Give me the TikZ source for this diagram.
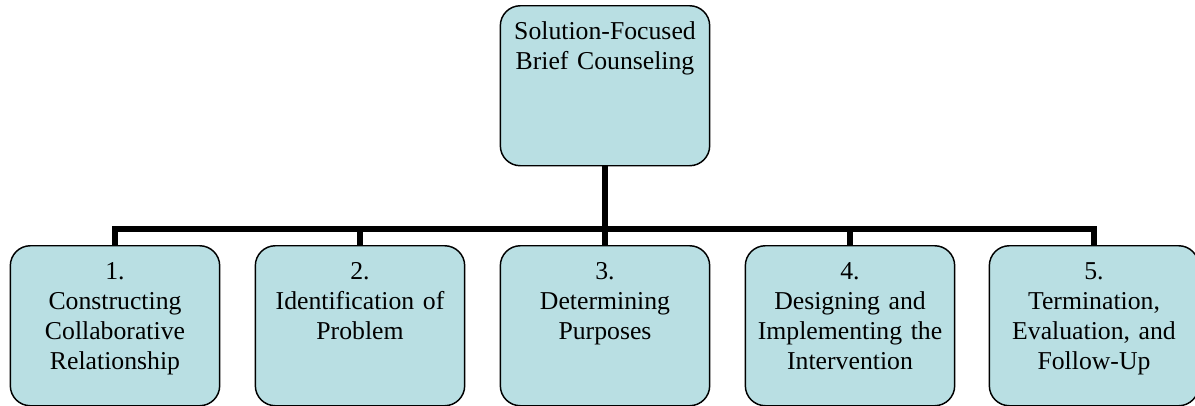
\documentclass[tikz,border=0pt]{standalone}
\usepackage{fontspec}
\setmainfont{Liberation Serif}
\definecolor{boxfill}{RGB}{185,223,227}
\tikzset{
   stagebox/.style={draw=black,line width=1.1pt,fill=boxfill,rounded corners=15pt,
      inner xsep=5pt,inner ysep=0pt,text width=147pt,align=center,
      text height=25pt,text depth=95pt,anchor=north,
      font=\fontsize{19.3}{22.5}\selectfont},
   link/.style={line width=4.5pt,black}
}
\begin{document}
\begin{tikzpicture}[x=0.75pt,y=-0.75pt]
   \useasboundingbox (0,0) rectangle (1195,405);
   \node[stagebox] (top) at (605,5) {Solution-Focused\\Brief Counseling};
   \node[stagebox] (p1) at (115,245) {1.\\Constructing\\Collaborative\\Relationship};
   \node[stagebox] (p2) at (360,245) {2.\\Identification of\\Problem};
   \node[stagebox] (p3) at (605,245) {3.\\Determining\\Purposes};
   \node[stagebox] (p4) at (850,245) {4.\\Designing and\\Implementing the\\Intervention};
   \node[stagebox] (p5) at (1094,245) {5.\\Termination,\\Evaluation, and\\Follow-Up};
   \coordinate (bus) at (605,229);
   \draw[link] (top.south) -- (bus);
   \draw[link] (p1.north) |- (bus) -| (p5.north);
   \foreach \n in {p2,p3,p4} {
      \draw[link] (\n.north) -- (\n.north |- bus);
   }
\end{tikzpicture}
\end{document}
